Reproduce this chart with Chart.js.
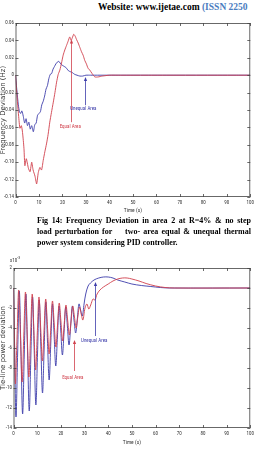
<!DOCTYPE html>
<html>
<head>
<meta charset="utf-8">
<script src="https://cdn.jsdelivr.net/npm/chart.js@4.4.1/dist/chart.umd.min.js"></script>
<style>
  body { margin: 0; width: 257px; height: 449px; background: #fff; position: relative; overflow: hidden; }
  canvas { display: block; }
  .box { position: absolute; left: 0; }
  .hdr { position: absolute; left: 98px; top: 2px; font: bold 9.5px "Liberation Serif", serif; white-space: nowrap; color: #000; }
  .hdr span { color: #4a7cc0; }
  .cap { position: absolute; left: 37px; width: 214px; font: bold 8px "Liberation Serif", serif; white-space: nowrap;
         text-align: justify; text-align-last: justify; line-height: 10px; color: #000; }
  .exp { position: absolute; left: 10px; top: 255px; font: 5px "Roboto Condensed", sans-serif; color: #333; }
  .exp sup { font-size: 4px; }
</style>
</head>
<body>
<div class="hdr">Website: www.ijetae.com <span>(ISSN 2250</span></div>
<div class="box" style="top:14px"><canvas id="freqChart" width="257" height="205"></canvas></div>
<div class="cap" style="top:216px">Fig 14: Frequency Deviation in area 2 at R=4% &amp; no step</div>
<div class="cap" style="top:227px">load perturbation for&nbsp;&nbsp;&nbsp; two- area equal &amp; unequal thermal</div>
<div class="cap" style="top:238px; text-align-last:left">power system considering PID controller.</div>
<div class="box" style="top:258px"><canvas id="tieChart" width="257" height="191"></canvas></div>
<div class="exp">x10<sup>-3</sup></div>
<script>
// Fig 14 - frequency deviation (Hz)
const freqEqualTime = [
  0, 0.8, 1.5, 1.9, 2.5, 3.0, 3.6, 4.0, 4.6, 5.5,
  6.2, 6.9, 7.5, 8.3, 9.0, 9.7, 10.4, 11.1, 11.8, 12.5,
  13.2, 13.9, 14.6, 15.3, 16.1, 16.8, 17.5, 18.2, 18.9, 19.6,
  20.3, 21.0, 21.7, 22.4, 23.1, 23.7, 24.2, 24.8, 25.4, 26.0,
  26.7, 27.4, 28.1, 28.8, 29.5, 30.2, 30.9, 31.6, 32.6, 33.8,
  35.2, 37.0, 40.0, 45.0, 100
];
const freqEqual = [
  0, -0.030, -0.052, -0.061, -0.058, -0.066, -0.084, -0.104, -0.096, -0.107,
  -0.111, -0.100, -0.109, -0.116, -0.125, -0.112, -0.106, -0.109, -0.098, -0.088,
  -0.079, -0.068, -0.054, -0.043, -0.031, -0.020, -0.008, 0.001, 0.006, 0.014,
  0.023, 0.029, 0.034, 0.039, 0.044, 0.040, 0.043, 0.047, 0.045, 0.041,
  0.037, 0.032, 0.027, 0.023, 0.017, 0.013, 0.008, 0.006, 0.002, -0.002,
  -0.002, -0.001, 0, 0, 0
];
const freqUnequalTime = [
  0, 0.6, 1.2, 1.7, 2.2, 2.7, 3.3, 3.9, 4.5, 5.1,
  5.7, 6.3, 6.9, 7.6, 8.2, 8.8, 9.4, 10.0, 10.6, 11.2,
  11.8, 12.4, 13.0, 13.6, 14.2, 14.8, 15.4, 16.0, 16.6, 17.2,
  17.8, 18.4, 19.0, 19.6, 20.2, 20.8, 21.4, 22.0, 22.6, 23.4,
  24.2, 25.2, 26.2, 27.4, 28.6, 30.0, 32.0, 35.0, 100
];
const freqUnequal = [
  0, -0.018, -0.034, -0.042, -0.044, -0.041, -0.047, -0.055, -0.050, -0.058,
  -0.054, -0.062, -0.058, -0.065, -0.057, -0.055, -0.046, -0.044, -0.042, -0.034,
  -0.030, -0.024, -0.016, -0.012, -0.004, 0.001, 0.002, 0.007, 0.010, 0.013,
  0.015, 0.016, 0.014, 0.012, 0.011, 0.010, 0.009, 0.007, 0.005, 0.004,
  0.003, 0.001, 0, -0.001, -0.001, 0, 0, 0, 0
];

// tie-line power deviation (x10^-3)
const tieEqualTime = [
  0, 0.4, 0.8, 1.5, 2.2, 2.95, 3.65, 4.35, 5.05, 5.8,
  6.5, 7.2, 7.9, 8.65, 9.35, 10.05, 10.75, 11.5, 12.2, 12.9,
  13.6, 14.35, 15.05, 15.75, 16.45, 17.2, 17.9, 18.6, 19.3, 20.05,
  20.75, 21.45, 22.15, 22.9, 23.6, 24.3, 25.0, 25.75, 26.45, 27.15,
  27.85, 28.6, 29.3, 30.2, 31.0, 31.8, 32.6, 33.6, 34.4, 35.3,
  36.5, 38.0, 40.0, 42.0, 44.0, 46.0, 48.0, 50.0, 53.0, 56.0,
  60.0, 64.0, 68.0, 100
];
const tieEqual = [
  0, -4.8, -9.6, -4.9, -0.2, -4.8, -9.4, -4.7, -0.4, -4.8,
  -8.9, -4.8, -0.6, -4.5, -8.2, -4.5, -0.9, -4.1, -7.3, -4.2,
  -1.1, -3.9, -6.6, -4.0, -1.3, -3.6, -5.9, -3.7, -1.5, -3.4,
  -5.3, -3.5, -1.7, -3.3, -4.7, -3.3, -1.8, -2.9, -4.0, -2.9,
  -1.9, -2.6, -3.2, -2.0, -1.6, -2.1, -1.7, -1.1, -1.2, -0.6,
  -0.2, 0.1, 0.4, 0.7, 0.9, 1.0, 1.0, 0.9, 0.7, 0.45,
  0.2, 0.05, 0, 0
];
const tieUnequalTime = [
  0, 0.5, 1.05, 1.75, 2.45, 3.15, 3.85, 4.55, 5.25, 5.95,
  6.65, 7.35, 8.05, 8.75, 9.45, 10.15, 10.85, 11.55, 12.25, 12.95,
  13.65, 14.35, 15.05, 15.75, 16.45, 17.15, 17.85, 18.55, 19.25, 19.95,
  20.65, 21.35, 22.05, 22.75, 23.45, 24.15, 24.85, 25.55, 26.25, 26.95,
  27.65, 28.35, 29.05, 29.8, 30.5, 31.5, 32.5, 34.0, 36.0, 38.0,
  40.0, 42.0, 44.0, 47.0, 50.0, 54.0, 58.0, 62.0, 66.0, 100
];
const tieUnequal = [
  0, -6.5, -12.9, -6.5, -0.3, -6.4, -12.6, -6.6, -0.6, -6.5,
  -12.3, -6.6, -0.9, -6.3, -11.7, -6.5, -1.2, -5.8, -10.5, -6.0,
  -1.4, -5.3, -9.2, -5.5, -1.6, -4.7, -7.8, -4.9, -1.8, -4.2,
  -6.7, -4.4, -1.9, -3.8, -5.7, -3.8, -1.8, -3.2, -4.5, -3.1,
  -1.6, -2.2, -2.8, -1.6, -0.6, 0.2, 0.5, 0.8, 1.0, 1.1,
  1.1, 1.0, 0.8, 0.6, 0.4, 0.25, 0.15, 0.05, 0, 0
];

const RED = "#d0404c";
const BLUE = "#3c3caa";
const narrow = "'Roboto Condensed', 'DejaVu Sans Condensed', sans-serif";

const toPoints = (ts, vs) => ts.map((t, i) => ({ x: t, y: vs[i] }));

// matlab style frame: box, inward ticks on all sides, and the labelled arrows
const matlabBox = {
    id: "matlabBox",
    afterDatasetsDraw(chart, args, opts) {
        const { ctx, chartArea: a, scales: { x, y } } = chart;
        ctx.save();
        (opts.arrows || []).forEach(ar => {
            const px = Math.round(x.getPixelForValue(ar.x)) + 0.5;
            const y1 = y.getPixelForValue(ar.from);
            const y2 = y.getPixelForValue(ar.to);
            ctx.strokeStyle = ar.color;
            ctx.fillStyle = ar.color;
            ctx.lineWidth = 0.8;
            ctx.beginPath();
            ctx.moveTo(px, y1);
            ctx.lineTo(px, y2 + 3);
            ctx.stroke();
            ctx.beginPath();
            ctx.moveTo(px, y2);
            ctx.lineTo(px - 1.6, y2 + 4);
            ctx.lineTo(px + 1.6, y2 + 4);
            ctx.closePath();
            ctx.fill();
            ctx.font = "5px " + narrow;
            ctx.textAlign = "center";
            ctx.textBaseline = "middle";
            ctx.fillText(ar.text, x.getPixelForValue(ar.tx), y.getPixelForValue(ar.ty));
        });
        ctx.strokeStyle = "#444";
        ctx.lineWidth = 0.8;
        ctx.strokeRect(a.left + 0.5, a.top + 0.5, a.width - 1, a.height - 1);
        ctx.beginPath();
        x.ticks.forEach(t => {
            const px = Math.round(x.getPixelForValue(t.value)) + 0.5;
            ctx.moveTo(px, a.bottom); ctx.lineTo(px, a.bottom - 3);
            ctx.moveTo(px, a.top); ctx.lineTo(px, a.top + 3);
        });
        y.ticks.forEach(t => {
            const py = Math.round(y.getPixelForValue(t.value)) + 0.5;
            ctx.moveTo(a.left, py); ctx.lineTo(a.left + 3, py);
            ctx.moveTo(a.right, py); ctx.lineTo(a.right - 3, py);
        });
        ctx.stroke();
        ctx.restore();
    }
};

function makeChart(id, series, yOpts, yTitle, arrows, pad, yWidth, xHeight, xTitlePad) {
    return new Chart(document.getElementById(id), {
        type: "line",
        data: {
            datasets: series.map(s => ({
                data: s.data,
                borderColor: s.color,
                borderWidth: 0.9,
                pointRadius: 0,
                tension: s.tension,
                fill: false
            }))
        },
        options: {
            responsive: false,
            animation: false,
            layout: { padding: pad },
            plugins: { legend: { display: false }, tooltip: { enabled: false }, matlabBox: { arrows } },
            scales: {
                x: {
                    type: "linear", min: 0, max: 100,
                    ticks: { stepSize: 10, color: "#333", font: { family: narrow, size: 5 }, padding: 3, maxRotation: 0 },
                    grid: { display: false, drawTicks: false },
                    border: { display: false },
                    title: { display: true, text: "Time (s)", color: "#333", font: { family: narrow, size: 5.5 }, padding: { top: 0, bottom: xTitlePad } },
                    afterFit: s => { s.height = xHeight; }
                },
                y: {
                    type: "linear", min: yOpts.min, max: yOpts.max,
                    ticks: { stepSize: yOpts.step, color: "#333", font: { family: narrow, size: 5 }, padding: 1.5 },
                    grid: { display: false, drawTicks: false },
                    border: { display: false },
                    title: { display: true, text: yTitle, color: "#333", font: { family: "'DejaVu Sans', sans-serif", size: 7, lineHeight: 1 }, padding: 0 },
                    afterFit: s => { s.width = yWidth; }
                }
            }
        },
        plugins: [matlabBox]
    });
}

makeChart("freqChart",
    [
        { data: toPoints(freqEqualTime, freqEqual), color: RED, tension: 0.2 },
        { data: toPoints(freqUnequalTime, freqUnequal), color: BLUE, tension: 0.2 }
    ],
    { min: -0.14, max: 0.06, step: 0.02 },
    "Frequency Deviation (Hz)",
    [
        { x: 23.6, from: -0.054, to: 0.041, text: "Equal Area", tx: 23.3, ty: -0.059, color: RED },
        { x: 29.5, from: -0.0345, to: -0.002, text: "Unequal Area", tx: 28.9, ty: -0.039, color: BLUE }
    ],
    { top: 9, right: 6, left: 0, bottom: 0 }, 15.5, 22, 5);

makeChart("tieChart",
    [
        { data: toPoints(tieEqualTime, tieEqual), color: RED, tension: 0.35 },
        { data: toPoints(tieUnequalTime, tieUnequal), color: BLUE, tension: 0.35 }
    ],
    { min: -14, max: 2, step: 2 },
    "Tie-line power deviation",
    [
        { x: 25.4, from: -8.3, to: -5.2, text: "Equal Area", tx: 25, ty: -9.0, color: RED },
        { x: 34.6, from: -4.8, to: 0.6, text: "Unequal Area", tx: 34.1, ty: -5.3, color: BLUE }
    ],
    { top: 10, right: 5, left: 0, bottom: 0 }, 13.5, 21, 3);
</script>
</body>
</html>
